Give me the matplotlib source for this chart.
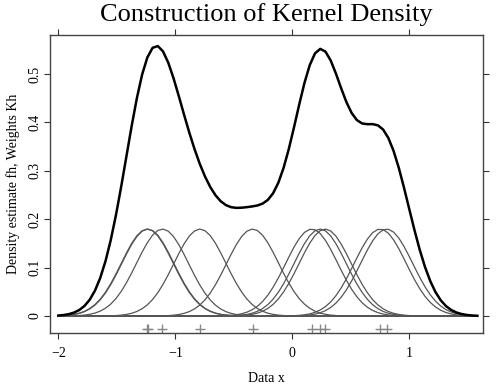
import numpy as np
import matplotlib.pyplot as plt

data_x = [-1.24, -1.235, -1.11, -0.79, -0.34, 0.165, 0.237, 0.28, 0.75, 0.805]
bandwidth = 0.222
grid_lo, grid_hi, grid_n = -2.0, 1.58, 81

xticks = [-2, -1, 0, 1]
yticks = [0, 0.1, 0.2, 0.3, 0.4, 0.5]

plt.rcParams['font.family'] = ['Liberation Serif', 'DejaVu Serif']

fig = plt.figure(figsize=(5.01, 3.89), dpi=100)
ax = fig.add_axes([0.0998, 0.144, 0.8652, 0.766])

grid = np.linspace(grid_lo, grid_hi, grid_n)
n = len(data_x)
kernels = []
for xi in data_x:
    k = np.exp(-0.5 * ((grid - xi) / bandwidth) ** 2) / (n * bandwidth * np.sqrt(2 * np.pi))
    kernels.append(k)
    ax.plot(grid, k, color='#555555', lw=0.9)
dens = np.sum(kernels, axis=0)
ax.plot(grid, dens, color='black', lw=1.8)

ax.plot(data_x, [-0.027] * n, ls='none', marker='+', ms=7, mew=1.0, color='#888888')

ax.set_xlim(-2.071, 1.632)
ax.set_ylim(-0.035, 0.5806)
ax.set_xticks(xticks)
ax.set_yticks(yticks)
ax.set_yticklabels(['0', '0.1', '0.2', '0.3', '0.4', '0.5'], rotation=90, va='center')
ax.tick_params(direction='out', length=4, width=0.8, labelsize=10, top=True, right=True,
               labeltop=False, labelright=False, color='#333333')
ax.tick_params(axis='y', pad=2)
ax.tick_params(axis='x', pad=6)
for s in ax.spines.values():
    s.set_color('#444444')
    s.set_linewidth(1.0)

ax.set_xlabel('Data x', fontsize=10, labelpad=9)
ax.set_ylabel('Density estimate fh, Weights Kh', fontsize=10, labelpad=6)
# title centred over the plot region
fig.text(0.532, 0.962, 'Construction of Kernel Density', ha='center', va='center', fontsize=19)

fig.savefig('out.png', dpi=100)
